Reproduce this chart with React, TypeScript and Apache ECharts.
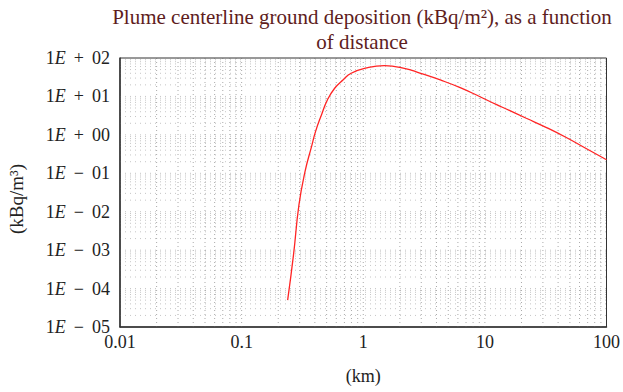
import React, { useEffect, useRef } from "react";
import * as echarts from "echarts";

// Distance from source (km)
const distanceKm = [0.239, 0.267, 0.296, 0.332, 0.376, 0.405, 0.453, 0.507, 0.582, 0.681, 0.796, 1.09, 1.49, 2.17, 2.96, 4.3, 6.27, 9.12, 12.5, 15, 21.9, 31.8, 46.3, 67.4, 100];
// Plume centerline ground deposition (kBq/m^2)
const deposition = [5.0e-5, 7.5e-4, 0.015, 0.11, 0.5, 1.21, 3.29, 8.1, 16.3, 26.8, 40, 56, 63, 54, 40, 26.8, 16.9, 9.8, 6.1, 4.7, 2.7, 1.57, 0.865, 0.447, 0.225];

const xTickLabels = ["0.01", "0.1", "1", "10", "100"];
const xDecades = [-2, -1, 0, 1];
const yDecades = [-5, -4, -3, -2, -1, 0, 1];
const minorMultipliers = [1, 2, 3, 4, 5, 6, 7, 8, 9];

const titleText = "Plume centerline ground deposition (kBq/m²), as a function\nof distance";
const yName = "(kBq/m³)";
const xName = "(km)";

const FONT = "'Liberation Serif', 'DejaVu Serif', serif";

export default function App() {
  const ref = useRef<HTMLDivElement>(null);
  useEffect(() => {
    if (!ref.current) return;
    const chart = echarts.init(ref.current, null, { renderer: "svg" });

    const xGrid: number[] = [];
    xDecades.forEach((d, di) =>
      minorMultipliers.forEach((m) => {
        if (!(di === 0 && m === 1)) xGrid.push(m * Math.pow(10, d));
      })
    );
    const yGrid: number[] = [];
    yDecades.forEach((d, di) =>
      minorMultipliers.forEach((m) => {
        if (!(di === 0 && m === 1)) yGrid.push(m * Math.pow(10, d));
      })
    );

    const fmtY = (v: number) => {
      const e = Math.round(Math.log10(v));
      const sign = e >= 0 ? "+" : "\u2212";
      const digits = String(Math.abs(e)).padStart(2, "0");
      return `{a|1}{e|E}{op|${sign}}{a|${digits}}`;
    };
    const fmtX = (v: number) => {
      const e = Math.round(Math.log10(v));
      return xTickLabels[e + 2] ?? String(v);
    };

    const vStyle = { stroke: "#666", lineWidth: 0.7, lineDash: [1, 3], opacity: 0.8 };
    const hStyle = { stroke: "#666", lineWidth: 0.7, lineDash: [1, 4], opacity: 0.55 };

    chart.setOption({
      animation: false,
      backgroundColor: "#ffffff",
      title: {
        text: titleText,
        left: 362,
        textAlign: "center",
        top: 4,
        padding: 0,
        textStyle: {
          fontFamily: FONT,
          fontWeight: "normal",
          fontSize: 21,
          color: "#5e1d1d",
          lineHeight: 25,
        },
      },
      grid: {
        left: 120,
        right: 12,
        top: 58,
        bottom: 65,
        show: true,
        borderColor: "#333",
        borderWidth: 1,
        backgroundColor: "transparent",
      },
      xAxis: {
        type: "log",
        logBase: 10,
        min: 0.01,
        max: 100,
        splitNumber: 4,
        name: xName,
        nameLocation: "middle",
        nameGap: 40,
        nameTextStyle: { fontFamily: FONT, fontSize: 18, color: "#222" },
        axisLine: { show: true, lineStyle: { color: "#333", width: 1.5 } },
        axisTick: { show: false },
        splitLine: { show: false },
        axisLabel: {
          formatter: fmtX,
          fontFamily: FONT,
          fontSize: 18,
          color: "#222",
          margin: 6,
          showMinLabel: true,
          showMaxLabel: true,
        },
      },
      yAxis: {
        type: "log",
        logBase: 10,
        min: 1e-5,
        max: 100,
        splitNumber: 7,
        axisLine: { show: true, lineStyle: { color: "#333", width: 1.5 } },
        axisTick: { show: false },
        splitLine: { show: false },
        axisLabel: {
          formatter: fmtY,
          margin: 10,
          showMinLabel: true,
          showMaxLabel: true,
          rich: {
            a: { fontFamily: FONT, fontSize: 18, color: "#222" },
            e: { fontFamily: FONT, fontSize: 18, color: "#222", fontStyle: "italic" },
            op: { fontFamily: FONT, fontSize: 18, color: "#222", padding: [0, 8] },
          },
        },
      },
      graphic: [
        {
          type: "text",
          x: 16,
          y: 199,
          rotation: Math.PI / 2,
          style: {
            text: yName,
            fontFamily: FONT,
            fontSize: 19,
            fill: "#222",
            textAlign: "center",
            textVerticalAlign: "middle",
          },
        },
      ],
      series: [
        {
          type: "custom",
          silent: true,
          z: 1,
          data: xGrid.map((v) => [v, 1]),
          renderItem: (params: any, api: any) => {
            const cs = params.coordSys;
            const x = api.coord([api.value(0), 1])[0];
            return {
              type: "line",
              shape: { x1: x, y1: cs.y, x2: x, y2: cs.y + cs.height },
              style: vStyle,
            };
          },
        },
        {
          type: "custom",
          silent: true,
          z: 1,
          data: yGrid.map((v) => [1, v]),
          renderItem: (params: any, api: any) => {
            const cs = params.coordSys;
            const y = api.coord([1, api.value(1)])[1];
            return {
              type: "line",
              shape: { x1: cs.x, y1: y, x2: cs.x + cs.width, y2: y },
              style: hStyle,
            };
          },
        },
        {
          type: "line",
          z: 3,
          data: distanceKm.map((d, i) => [d, deposition[i]]),
          smooth: 0.5,
          showSymbol: false,
          lineStyle: { color: "#ff2424", width: 1.3 },
          itemStyle: { color: "#ff2424" },
        },
      ],
    });
    return () => chart.dispose();
  }, []);
  return (
    <div
      ref={ref}
      style={{ position: "fixed", left: 0, top: 0, width: 623, height: 392 }}
    />
  );
}
